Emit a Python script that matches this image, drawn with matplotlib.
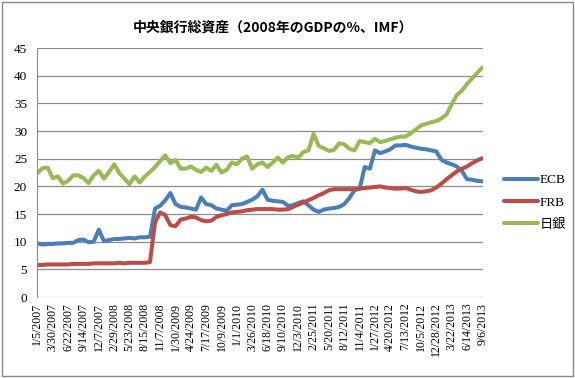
import numpy as np
import matplotlib
matplotlib.use('Agg')
import matplotlib.pyplot as plt
from matplotlib.patches import Rectangle

week = np.arange(0, 349, 4)

ecb = [9.7, 9.5, 9.6, 9.6, 9.7, 9.7, 9.8, 9.8, 10.3, 10.4, 9.9, 10.0, 12.2, 10.1, 10.3,
       10.5, 10.5, 10.6, 10.7, 10.6, 10.8, 10.8, 10.9,
       16.0, 16.5, 17.5, 18.8, 16.8, 16.3,
       16.2, 16.0, 15.8, 18.0, 16.8, 16.6, 16.0, 15.8, 15.6, 16.6, 16.7, 16.8, 17.2, 17.6,
       18.2, 19.4, 17.6, 17.4, 17.3, 17.2, 16.5, 16.6, 17.0, 17.3, 16.6, 15.8, 15.4, 15.8, 16.0,
       16.1, 16.3, 16.8, 17.9, 19.3, 19.6, 23.5, 23.2, 26.5, 26.0, 26.3, 26.7, 27.4, 27.4,
       27.5, 27.2, 27.0, 26.8, 26.7, 26.5, 26.3, 24.8, 24.3, 24.0, 23.6, 22.8, 21.3, 21.2, 21.0, 20.9]

frb = [5.8, 5.8, 5.9, 5.9, 5.9, 5.9, 5.9, 6.0, 6.0, 6.0, 6.0, 6.1, 6.1, 6.1, 6.1, 6.1,
       6.2, 6.1, 6.2, 6.2, 6.2,
       6.2, 6.3, 13.5, 15.3, 14.8, 13.0, 12.8, 14.0,
       14.2, 14.5, 14.4, 13.9, 13.7, 13.8, 14.5, 14.8, 15.0, 15.3, 15.4, 15.5, 15.7, 15.8,
       15.9, 15.9, 15.9, 15.9, 15.8, 15.8, 15.9, 16.3, 16.7, 17.1, 17.5, 17.9, 18.4, 18.8, 19.3,
       19.5, 19.5, 19.5, 19.5, 19.5, 19.6, 19.7, 19.8, 19.9, 20.0, 19.8, 19.7, 19.6, 19.6,
       19.7, 19.4, 19.1, 19.0, 19.1, 19.3, 19.8, 20.5, 21.3, 22.0, 22.7, 23.2, 23.6, 24.2, 24.7, 25.1]

boj = [22.4, 23.3, 23.4, 21.5, 21.8, 20.5, 21.0, 22.0, 22.0, 21.5, 20.6, 22.0, 22.8, 21.4, 22.6,
       24.0, 22.4, 21.4, 20.4, 21.8, 20.7, 21.8, 22.6, 23.5, 24.6, 25.6, 24.2, 24.8, 23.2,
       23.2, 23.6, 23.0, 22.6, 23.4, 22.8, 23.9, 22.5, 23.0, 24.3, 24.0, 25.0, 25.4, 23.2, 24.0,
       24.3, 23.5, 24.3, 25.2, 24.3, 25.3, 25.5, 25.2, 26.2, 26.5, 29.5, 27.3, 26.9, 26.4,
       26.6, 27.8, 27.6, 26.8, 26.5, 28.2, 28.0, 27.8, 28.6, 28.0, 28.2, 28.5, 28.8, 29.0,
       29.0, 29.6, 30.3, 31.0, 31.3, 31.6, 31.8, 32.3, 33.0, 34.8, 36.5, 37.3, 38.5, 39.5, 40.5, 41.5]

tick_labels = ['1/5/2007', '3/30/2007', '6/22/2007', '9/14/2007', '12/7/2007', '2/29/2008',
               '5/23/2008', '8/15/2008', '11/7/2008', '1/30/2009', '4/24/2009', '7/17/2009',
               '10/9/2009', '1/1/2010', '3/26/2010', '6/18/2010', '9/10/2010', '12/3/2010',
               '2/25/2011', '5/20/2011', '8/12/2011', '11/4/2011', '1/27/2012', '4/20/2012',
               '7/13/2012', '10/5/2012', '12/28/2012', '3/22/2013', '6/14/2013', '9/6/2013']

serif = ['Liberation Serif', 'Noto Sans CJK JP']

fig = plt.figure(figsize=(5.75, 3.78), dpi=100)
fig.patches.append(Rectangle((0.004, 0.005), 0.992, 0.99, transform=fig.transFigure,
                             fill=False, edgecolor='#888888', linewidth=1.0))

ax = fig.add_axes([0.064, 0.214, 0.776, 0.659])
ax.plot(week, ecb, color='#4A7EBB', lw=2.9, label='ECB', solid_capstyle='round')
ax.plot(week, frb, color='#BE4B48', lw=2.9, label='FRB', solid_capstyle='round')
ax.plot(week, boj, color='#98B954', lw=2.9, label='日銀', solid_capstyle='round')

ax.set_xlim(-0.5, 348.5)
ax.set_ylim(0, 45)
ax.set_yticks(range(0, 46, 5))
ax.set_xticks(np.arange(0, 349, 12))
ax.set_xticklabels(tick_labels, rotation=90, fontsize=8.5, family=serif)
for t in ax.get_yticklabels():
    t.set_family(serif)
    t.set_fontsize(9.5)
ax.tick_params(length=0, pad=7)
ax.tick_params(axis='x', pad=4)

ax.yaxis.grid(True, color='#8C8C8C', linewidth=0.9)
ax.set_axisbelow(True)
for s in ['top', 'right', 'bottom']:
    ax.spines[s].set_visible(False)
ax.spines['left'].set_color('#8C8C8C')

ax.set_title('中央銀行総資産（2008年のGDPの%、IMF）', family=['Noto Sans CJK JP'],
             fontsize=10, fontweight='bold', pad=12, x=0.53)

leg = ax.legend(loc='center left', bbox_to_anchor=(1.02, 0.38), frameon=False,
                prop={'family': serif, 'size': 9.5}, handlelength=2.6,
                handletextpad=0.15, labelspacing=0.75)

plt.savefig('out.png', dpi=100)
